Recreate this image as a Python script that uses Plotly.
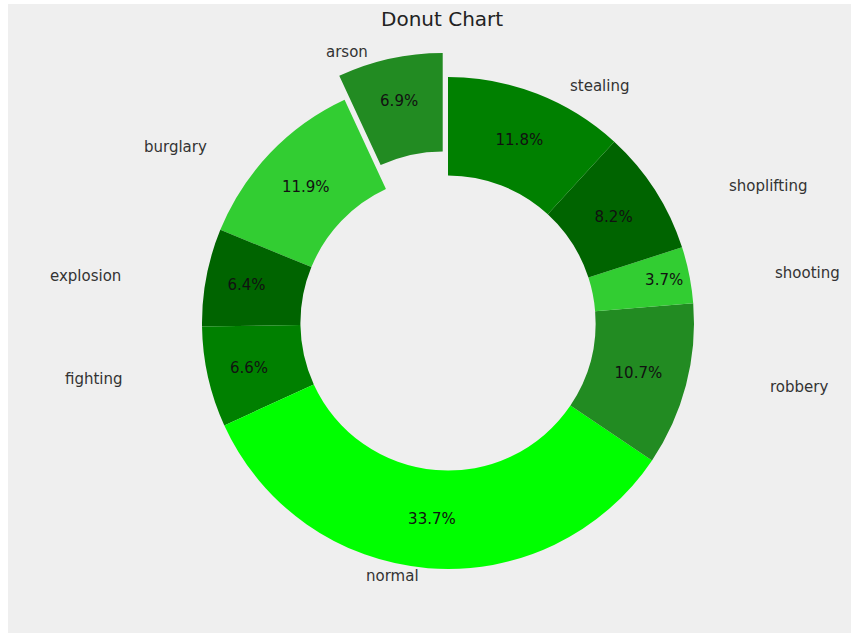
import math
import plotly.graph_objects as go

# ---- data ----
labels = ['arson', 'burglary', 'explosion', 'fighting', 'normal',
          'robbery', 'shooting', 'shoplifting', 'stealing']
values = [6.9, 11.9, 6.4, 6.6, 33.7, 10.7, 3.7, 8.2, 11.8]
colors = ['forestgreen', 'limegreen', 'darkgreen', 'green', 'lime',
          'forestgreen', 'limegreen', 'darkgreen', 'green']
explode = [0.1, 0, 0, 0, 0, 0, 0, 0, 0]
title = 'Donut Chart'

# ---- layout constants (pixels) ----
W, H = 851, 633
cx, cy = 448, 323          # donut centre
r = 246                    # pie radius
a_lab, b_lab = 301, 231    # ellipse used for outer label placement
BG = '#efefef'
FONT = 'DejaVu Sans'


def px(x):
    return x / W


def py(y):
    return 1 - y / H


total = sum(values)
# first wedge must begin at 12 o'clock and run counter-clockwise
rotation = -values[0] / total * 360

half = r * (1 + max(explode))
fig = go.Figure(go.Pie(
    labels=labels,
    values=values,
    hole=0.6,
    sort=False,
    direction='counterclockwise',
    rotation=rotation,
    pull=explode,
    marker=dict(colors=colors, line=dict(width=0)),
    textinfo='percent',
    texttemplate='%{percent:.1%}',
    textposition='inside',
    insidetextorientation='horizontal',
    textfont=dict(family=FONT, size=15, color='#111111'),
    showlegend=False,
    domain=dict(x=[px(cx - half), px(cx + half)],
                y=[py(cy + half), py(cy - half)]),
))

# outer category labels, positioned from the cumulative shares
annotations = []
cum = 0.0
for lab, v, ex in zip(labels, values, explode):
    mid = (cum + v / 2) / total
    cum += v
    th = math.radians(90 + mid * 360)
    d = 1.1 + ex
    x = cx + math.cos(th) * d * a_lab
    y = cy - math.sin(th) * d * b_lab
    annotations.append(dict(
        x=px(x), y=py(y), xref='paper', yref='paper',
        text=lab, showarrow=False,
        xanchor='left' if math.cos(th) >= 0 else 'right',
        yanchor='middle',
        font=dict(family=FONT, size=15, color='#333333'),
    ))

annotations.append(dict(
    x=px(441.5), y=py(19), xref='paper', yref='paper', text=title,
    showarrow=False, xanchor='center', yanchor='middle',
    font=dict(family=FONT, size=20, color='#222222'),
))

fig.update_layout(
    width=W, height=H,
    margin=dict(l=0, r=0, t=0, b=0),
    paper_bgcolor=BG,
    plot_bgcolor=BG,
    annotations=annotations,
    shapes=[
        dict(type='rect', xref='paper', yref='paper', x0=0, x1=px(8),
             y0=0, y1=1, fillcolor='white', line=dict(width=0), layer='below'),
        dict(type='rect', xref='paper', yref='paper', x0=0, x1=1,
             y0=py(4), y1=1, fillcolor='white', line=dict(width=0), layer='below'),
    ],
)

fig.write_html('out.html')
